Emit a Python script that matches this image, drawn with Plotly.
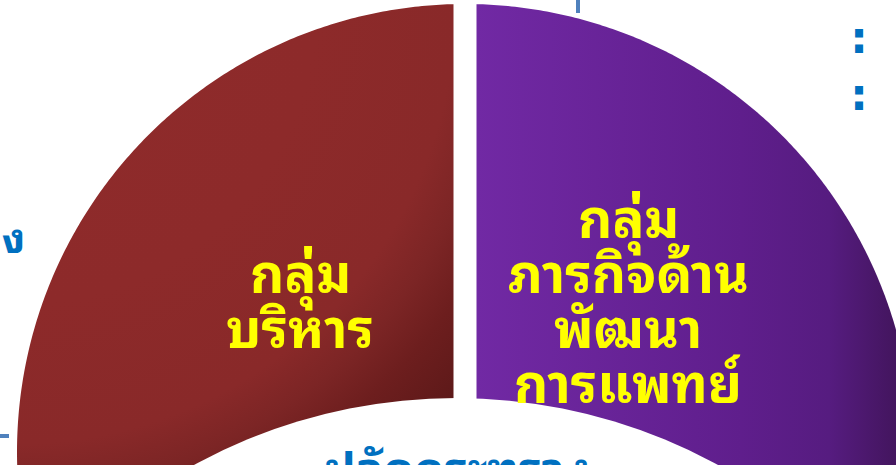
import numpy as np
import plotly.graph_objects as go

# ---------------- data ----------------
groups = ["กลุ่ม<br>บริหาร", "กลุ่ม<br>ภารกิจด้าน<br>พัฒนา<br>การแพทย์"]
shares = [1, 1]                      # equal shares of the swept arc
arc_from_deg, arc_to_deg = 200, -20  # arc swept clockwise (degrees, east = 0)
hub_label = "ปลัดกระทรวง"
left_fragment = "ง"
colon_marks = [":", ":"]

# ---------------- geometry / style ----------------
W, H = 896, 465
CX, CY, R = 465, 452, 448
GAP = 23
HUB_X, HUB_Y, HUB_R = 456, 944, 546
LABEL_POS = [(300, 297), (628, 297)]
LINE_PITCH = 55
RED_ORIGIN = (15, 4)
red_stops_px = [(0, "#8F2B2B"), (300, "#8D2A2A"), (440, "#892929"),
                (485, "#7C2525"), (530, "#6D1E1E"), (590, "#5D1919")]
purple_scale = [[0, "#7129A4"], [0.63, "#5F1E8C"], [0.84, "#561C80"], [1, "#43155E"]]
YELLOW = "#FFFF00"
BLUE = "#0070C0"
LINE_BLUE = "#4F81BD"
FONT = "Noto Sans Thai Looped, Loma, Garuda, Tahoma, Noto Sans Thai, Noto Sans, sans-serif"


def clip(pts, nx, ny, c):
    out = []
    n = len(pts)
    for k in range(n):
        p, q = pts[k], pts[(k + 1) % n]
        fp = nx * p[0] + ny * p[1] - c
        fq = nx * q[0] + ny * q[1] - c
        if fp >= 0:
            out.append(p)
        if (fp >= 0) != (fq >= 0):
            t = fp / (fp - fq)
            out.append((p[0] + t * (q[0] - p[0]), p[1] + t * (q[1] - p[1])))
    return out


def segment(hi, lo, internal_hi, internal_lo):
    th = np.radians(np.linspace(lo, hi, 241))
    pts = [(0.0, 0.0)] + [(R * np.cos(t), R * np.sin(t)) for t in th]
    if internal_hi:
        a = np.radians(hi)
        pts = clip(pts, np.sin(a), -np.cos(a), GAP / 2)
    if internal_lo:
        b = np.radians(lo)
        pts = clip(pts, -np.sin(b), np.cos(b), GAP / 2)
    xs = [CX + p[0] for p in pts]
    ys = [CY - p[1] for p in pts]
    return xs, ys


total = sum(shares)
bounds = [arc_from_deg]
for s in shares:
    bounds.append(bounds[-1] - (arc_from_deg - arc_to_deg) * s / total)

fig = go.Figure()
n = len(shares)
for i in range(n):
    hi, lo = bounds[i], bounds[i + 1]
    xs, ys = segment(hi, lo, i > 0, i < n - 1)
    if i == 0:
        gx, gy = RED_ORIGIN
        S = max(max(xs) - gx, gx - min(xs), max(ys) - gy, gy - min(ys))
        lx, ly = xs[-1], ys[-1]
        xs = xs + [gx - S, lx, gx + S, lx]
        ys = ys + [gy - S, ly, gy + S, ly]
        scale = [[d / S, c] for d, c in red_stops_px] + [[1, red_stops_px[-1][1]]]
        grad = dict(type="radial", colorscale=scale)
    else:
        grad = dict(type="horizontal", start=CX + GAP / 2, stop=W, colorscale=purple_scale)
    fig.add_trace(go.Scatter(
        x=xs, y=ys, mode="lines", fill="toself", fillgradient=grad,
        line=dict(width=0, color="rgba(0,0,0,0)", simplify=False),
        hoverinfo="skip", showlegend=False))

# hub circle
fig.add_shape(type="circle", xref="x", yref="y",
              x0=HUB_X - HUB_R, x1=HUB_X + HUB_R, y0=HUB_Y - HUB_R, y1=HUB_Y + HUB_R,
              fillcolor="white", line=dict(width=0), layer="above")

# connector fragments
fig.add_shape(type="line", xref="x", yref="y", x0=578, x1=578, y0=-5, y1=13,
              line=dict(color=LINE_BLUE, width=4))
fig.add_shape(type="line", xref="x", yref="y", x0=-5, x1=9, y0=436, y1=436,
              line=dict(color=LINE_BLUE, width=4))

for g, (x, y) in zip(groups, LABEL_POS):
    lines = g.split("<br>")
    y0 = y - LINE_PITCH * (len(lines) - 1) / 2
    for k, ln in enumerate(lines):
        fig.add_annotation(x=x, y=y0 + k * LINE_PITCH, text="<b>" + ln + "</b>", showarrow=False,
                           font=dict(family=FONT, size=53, color=YELLOW),
                           xanchor="center", yanchor="middle", align="center")

fig.add_annotation(x=457, y=425, text="<b>" + hub_label + "</b>", showarrow=False,
                   font=dict(family=FONT, size=46, color=BLUE),
                   xanchor="center", yanchor="top")
fig.add_annotation(x=27, y=234, text="<b>" + left_fragment + "</b>", showarrow=False,
                   font=dict(family=FONT, size=42, color=BLUE),
                   xanchor="right", yanchor="middle")
for y, c in zip([37, 94], colon_marks):
    fig.add_annotation(x=859, y=y, text="<b>" + c + "</b>", showarrow=False,
                       font=dict(family="DejaVu Sans", size=45, color=BLUE),
                       xanchor="center", yanchor="middle")

fig.update_layout(
    width=W, height=H, margin=dict(l=0, r=0, t=0, b=0),
    paper_bgcolor="white", plot_bgcolor="white",
    xaxis=dict(range=[0, W], visible=False, fixedrange=True),
    yaxis=dict(range=[H, 0], visible=False, fixedrange=True),
    showlegend=False,
)
fig.write_html("out.html", config={"displayModeBar": False},
               post_script="document.body.style.margin='0';document.body.style.overflow='hidden';")
